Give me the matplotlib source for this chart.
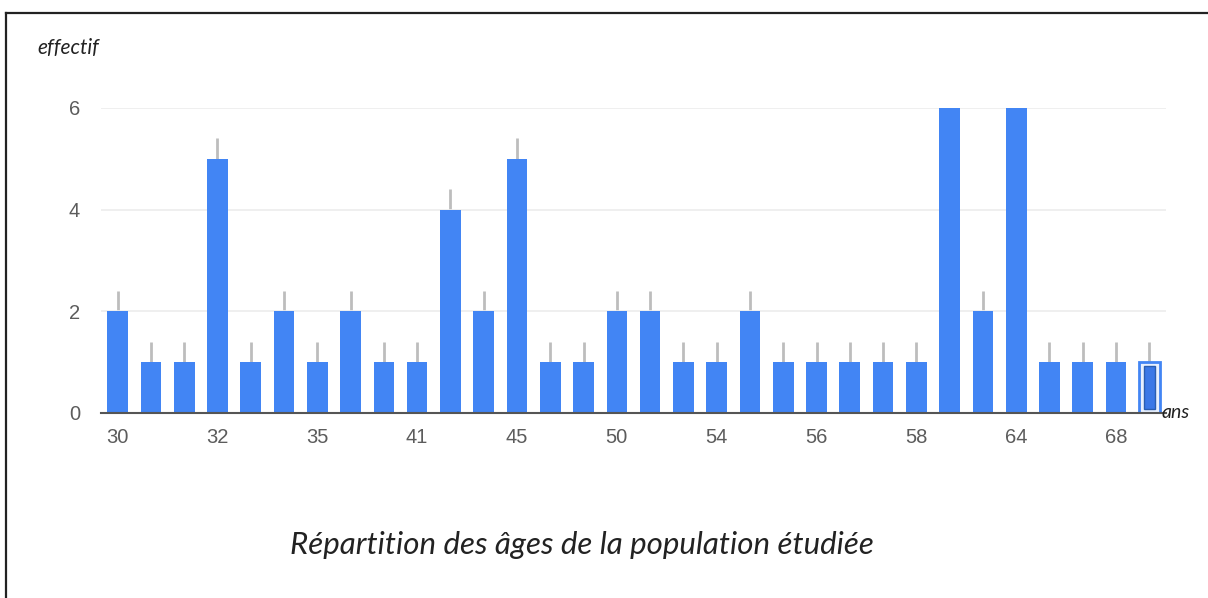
import matplotlib
matplotlib.use('Agg')
import matplotlib.pyplot as plt
from matplotlib.lines import Line2D
import numpy as np

# Données (âges et effectifs)
ages = ['30', '31', '31', '32', '33', '34', '35', '38', '40', '41', '42', '44',
        '45', '47', '49', '50', '52', '53', '54', '55', '55', '56', '57', '57',
        '58', '60', '62', '64', '66', '67', '68', '69']
effectifs = [2, 1, 1, 5, 1, 2, 1, 2, 1, 1, 4, 2, 5, 1, 1, 2, 2, 1, 1, 2, 1, 1, 1, 1,
             1, 6, 2, 6, 1, 1, 1, 1]
yticks = [0, 2, 4, 6]

bleu = '#4285f4'
gris = '#5c5c5c'

fig = plt.figure(figsize=(12.08, 5.98), dpi=100)
ax = fig.add_axes([0.0836, 0.3094, 0.8816, 0.51])

x = np.arange(len(ages))
vals = np.array(effectifs, dtype=float)

# barres
ax.bar(x[:-1], vals[:-1], width=0.62, color=bleu, zorder=2)
# dernière barre (sélectionnée)
ax.bar(x[-1], vals[-1], width=0.62, facecolor='#e8f0fe', edgecolor=bleu,
       linewidth=2, zorder=2)
ax.bar(x[-1], vals[-1] - 0.16, bottom=0.08, width=0.34, facecolor='#3b78e7',
       edgecolor='#2a5db0', linewidth=1, zorder=3)

# petits traits gris au-dessus des barres
ax.errorbar(x, vals, yerr=[np.zeros_like(vals), np.full_like(vals, 0.4)],
            fmt='none', ecolor='#bdbdbd', elinewidth=2, capsize=0, zorder=1)

ax.set_xlim(-0.5, len(ages) - 0.5)
ax.set_ylim(0, 6)
ax.set_yticks(yticks)
ax.set_xticks(x[::3])
ax.set_xticklabels(ages[::3])
ax.tick_params(axis='both', length=0, labelsize=14.5, labelcolor=gris)
ax.tick_params(axis='y', pad=15)
ax.tick_params(axis='x', pad=11)
for lab in ax.get_xticklabels() + ax.get_yticklabels():
    lab.set_fontfamily('Liberation Sans')

ax.grid(axis='y', color='#ececec', linewidth=1.2, zorder=0)
for s in ['top', 'right', 'left']:
    ax.spines[s].set_visible(False)
ax.spines['bottom'].set_color('#555555')
ax.spines['bottom'].set_linewidth(1.5)
ax.spines['bottom'].set_zorder(4)

# textes
fig.text(37 / 1208, 1 - 48 / 598, 'effectif', fontsize=15, style='italic',
         family='Lato', color='#222222', va='center', ha='left')
fig.text(1162 / 1208, 1 - 412 / 598, 'ans', fontsize=14, style='italic',
         family='Lato', color='#222222', va='center', ha='left')
fig.text(582 / 1208, 1 - 545 / 598, 'Répartition des âges de la population étudiée',
         fontsize=22.5, style='italic', family='Lato', color='#222222',
         va='center', ha='center')

# cadre (haut et gauche)
fig.add_artist(Line2D([5.5 / 1208, 1], [1 - 12.5 / 598] * 2, color='#222222',
                      linewidth=1.6, transform=fig.transFigure))
fig.add_artist(Line2D([5.5 / 1208] * 2, [0, 1 - 12.5 / 598], color='#222222',
                      linewidth=1.6, transform=fig.transFigure))

fig.savefig('out.png', dpi=100)
